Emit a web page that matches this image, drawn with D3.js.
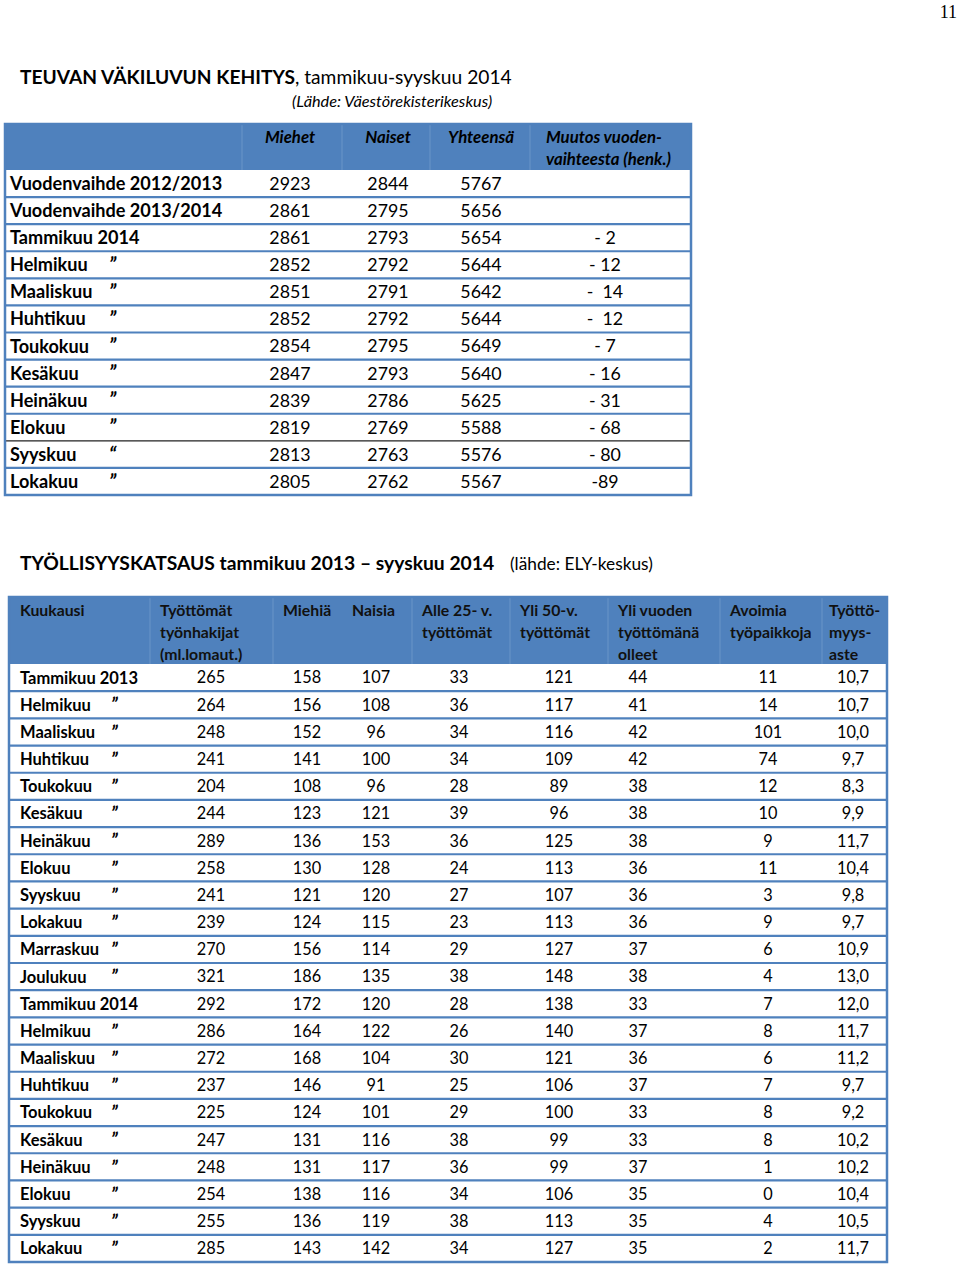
<!DOCTYPE html>
<html><head><meta charset="utf-8">
<script src="https://cdn.jsdelivr.net/npm/d3@7/dist/d3.min.js"></script>
<style>
body{margin:0;background:#fff}
svg{display:block;font-family:Lato,"Open Sans",sans-serif}
</style>
</head><body><svg id="c" width="960" height="1267"></svg>
<script>
// ---------- Table 1 data: population ----------
const popMonths = ["Vuodenvaihde 2012/2013","Vuodenvaihde 2013/2014","Tammikuu 2014","Helmikuu","Maaliskuu","Huhtikuu","Toukokuu","Kesäkuu","Heinäkuu","Elokuu","Syyskuu","Lokakuu"];
const popDitto = ["","","","”","”","”","”","”","”","”","“","”"];
const popMen = [2923,2861,2861,2852,2851,2852,2854,2847,2839,2819,2813,2805];
const popWomen = [2844,2795,2793,2792,2791,2792,2795,2793,2786,2769,2763,2762];
const popTotal = [5767,5656,5654,5644,5642,5644,5649,5640,5625,5588,5576,5567];
const popChange = ["","","- 2","- 12","-  14","-  12","- 7","- 16","- 31","- 68","- 80","-89"];
const popHeaders = ["Miehet","Naiset","Yhteensä"];
const popChangeHeader = ["Muutos vuoden-","vaihteesta (henk.)"];

// ---------- Table 2 data: employment ----------
const empMonths = ["Tammikuu 2013","Helmikuu","Maaliskuu","Huhtikuu","Toukokuu","Kesäkuu","Heinäkuu","Elokuu","Syyskuu","Lokakuu","Marraskuu","Joulukuu","Tammikuu 2014","Helmikuu","Maaliskuu","Huhtikuu","Toukokuu","Kesäkuu","Heinäkuu","Elokuu","Syyskuu","Lokakuu"];
const empDitto = ["","”","”","”","”","”","”","”","”","”","”","”","","”","”","”","”","”","”","”","”","”"];
const unemployed = [265,264,248,241,204,244,289,258,241,239,270,321,292,286,272,237,225,247,248,254,255,285];
const unempMen = [158,156,152,141,108,123,136,130,121,124,156,186,172,164,168,146,124,131,131,138,136,143];
const unempWomen = [107,108,96,100,96,121,153,128,120,115,114,135,120,122,104,91,101,116,117,116,119,142];
const under25 = [33,36,34,34,28,39,36,24,27,23,29,38,28,26,30,25,29,38,36,34,38,34];
const over50 = [121,117,116,109,89,96,125,113,107,113,127,148,138,140,121,106,100,99,99,106,113,127];
const longTerm = [44,41,42,42,38,38,38,36,36,36,37,38,33,37,36,37,33,33,37,35,35,35];
const openJobs = [11,14,101,74,12,10,9,11,3,9,6,4,7,8,6,7,8,8,1,0,4,2];
const unempRate = ["10,7","10,7","10,0","9,7","8,3","9,9","11,7","10,4","9,8","9,7","10,9","13,0","12,0","11,7","11,2","9,7","9,2","10,2","10,2","10,4","10,5","11,7"];
const empHeaders = [
  ["Kuukausi"],
  ["Työttömät","työnhakijat","(ml.lomaut.)"],
  ["Miehiä"],
  ["Naisia"],
  ["Alle 25- v.","työttömät"],
  ["Yli 50-v.","työttömät"],
  ["Yli vuoden","työttömänä","olleet"],
  ["Avoimia","työpaikkoja"],
  ["Työttö-","myys-","aste"]
];

// ---------- styles ----------
const BLUE = "#4f81bd", DIV = "#6b95c8";
const svg = d3.select("#c");

// page number
svg.append("text").attr("x",957).attr("y",18).attr("text-anchor","end")
  .style("font-family","'Liberation Serif','DejaVu Serif',serif").style("font-size","18px").text("11");

// ---------- Titles ----------
const t1 = svg.append("text").attr("x",20).attr("y",84).style("font-size","19.2px").attr("fill","#000");
t1.append("tspan").style("font-weight",700).text("TEUVAN VÄKILUVUN KEHITYS");
t1.append("tspan").text(", tammikuu-syyskuu 2014");
svg.append("text").attr("x",292).attr("y",107).style("font-size","16.3px").style("font-style","italic").text("(Lähde: Väestörekisterikeskus)");

const t2 = svg.append("text").attr("x",20).attr("y",570).style("font-size","19.3px");
t2.append("tspan").style("font-weight",700).text("TYÖLLISYYSKATSAUS tammikuu 2013 – syyskuu 2014");
t2.append("tspan").attr("x",510).style("font-size","17.3px").text("(lähde: ELY-keskus)");

// ================= TABLE 1 =================
{
  const left=5, right=691, top=124, headBottom=170, bottom=495;
  const bounds = [left,242,342,430,530,right];
  const y = d3.scaleBand().domain(d3.range(popMonths.length)).range([headBottom,bottom]);
  const colX = d3.scaleOrdinal().domain(["Miehet","Naiset","Yhteensä","Muutos"]).range([290,388,481,605]);
  const g = svg.append("g");
  g.append("rect").attr("x",left).attr("y",top).attr("width",right-left).attr("height",headBottom-top).attr("fill",BLUE);
  g.selectAll(".hd").data(bounds.slice(1,-1)).join("line")
    .attr("x1",d=>d).attr("x2",d=>d).attr("y1",top).attr("y2",headBottom).attr("stroke",DIV).attr("stroke-width",1);
  g.selectAll(".rl").data(d3.range(popMonths.length-1)).join("line")
    .attr("x1",left).attr("x2",right)
    .attr("y1",i=>y(i)+y.bandwidth()).attr("y2",i=>y(i)+y.bandwidth())
    .attr("stroke",i=>i===9?"#222":BLUE).attr("stroke-width",i=>i===9?1.2:2.2);
  g.append("rect").attr("x",left).attr("y",top).attr("width",right-left).attr("height",bottom-top)
    .attr("fill","none").attr("stroke",BLUE).attr("stroke-width",2.5);
  g.selectAll(".ht").data(popHeaders).join("text")
    .attr("x",d=>colX(d)).attr("y",143).attr("text-anchor","middle")
    .style("font-size","16.8px").style("font-weight",700).style("font-style","italic").text(d=>d);
  g.selectAll(".hc").data(popChangeHeader).join("text")
    .attr("x",546).attr("y",(d,i)=>143+i*22)
    .style("font-size","16.8px").style("font-weight",700).style("font-style","italic").text(d=>d);
  const rows = g.selectAll(".row").data(d3.range(popMonths.length)).join("g")
    .attr("transform",i=>`translate(0,${y(i)+y.bandwidth()/2})`);
  rows.append("text").attr("x",10).attr("dy","0.36em").style("font-size","18.1px").style("font-weight",700).text(i=>popMonths[i]);
  rows.append("text").attr("x",109).attr("dy","0.36em").style("font-size","20px").style("font-weight",700).style("font-style","italic").text(i=>popDitto[i]);
  const vals = [["Miehet",popMen],["Naiset",popWomen],["Yhteensä",popTotal],["Muutos",popChange]];
  vals.forEach(([k,arr])=>{
    rows.append("text").attr("x",colX(k)).attr("dy","0.36em").attr("text-anchor","middle")
      .style("font-size","17.8px").style("white-space","pre").attr("xml:space","preserve").text(i=>arr[i]);
  });
}

// ================= TABLE 2 =================
{
  const left=9, right=887, top=597, headBottom=664, bottom=1262;
  const bounds = [left,150,273,412,510,608,720,822,right];
  const y = d3.scaleBand().domain(d3.range(empMonths.length)).range([headBottom,bottom]);
  const keys = ["unemp","men","women","u25","o50","long","jobs","rate"];
  const colX = d3.scaleOrdinal().domain(keys).range([211,307,376,459,559,638,768,853]);
  const headX = [20,160,283,352,422,520,618,730,829];
  const g = svg.append("g");
  g.append("rect").attr("x",left).attr("y",top).attr("width",right-left).attr("height",headBottom-top).attr("fill",BLUE);
  g.selectAll(".hd").data(bounds.slice(1,-1)).join("line")
    .attr("x1",d=>d).attr("x2",d=>d).attr("y1",top).attr("y2",headBottom).attr("stroke",DIV).attr("stroke-width",1);
  g.selectAll(".rl").data(d3.range(empMonths.length-1)).join("line")
    .attr("x1",left).attr("x2",right)
    .attr("y1",i=>y(i)+y.bandwidth()).attr("y2",i=>y(i)+y.bandwidth())
    .attr("stroke",BLUE).attr("stroke-width",2.2);
  g.append("rect").attr("x",left).attr("y",top).attr("width",right-left).attr("height",bottom-top)
    .attr("fill","none").attr("stroke",BLUE).attr("stroke-width",2.5);
  empHeaders.forEach((lines,c)=>{
    g.selectAll(null).data(lines).join("text")
      .attr("x",headX[c]).attr("y",(d,i)=>616+i*22)
      .attr("fill","#111").style("font-size","15.8px").style("font-weight",700).text(d=>d);
  });
  const rows = g.selectAll(".row").data(d3.range(empMonths.length)).join("g")
    .attr("transform",i=>`translate(0,${y(i)+y.bandwidth()/2})`);
  rows.append("text").attr("x",20).attr("dy","0.36em").style("font-size","16.5px").style("font-weight",700).text(i=>empMonths[i]);
  rows.append("text").attr("x",111).attr("dy","0.36em").style("font-size","18.5px").style("font-weight",700).style("font-style","italic").text(i=>empDitto[i]);
  const arrs = [unemployed,unempMen,unempWomen,under25,over50,longTerm,openJobs,unempRate];
  keys.forEach((k,c)=>{
    rows.append("text").attr("x",colX(k)).attr("dy","0.36em").attr("text-anchor","middle")
      .style("font-size","16.3px").text(i=>arrs[c][i]);
  });
}
</script>
</body></html>
